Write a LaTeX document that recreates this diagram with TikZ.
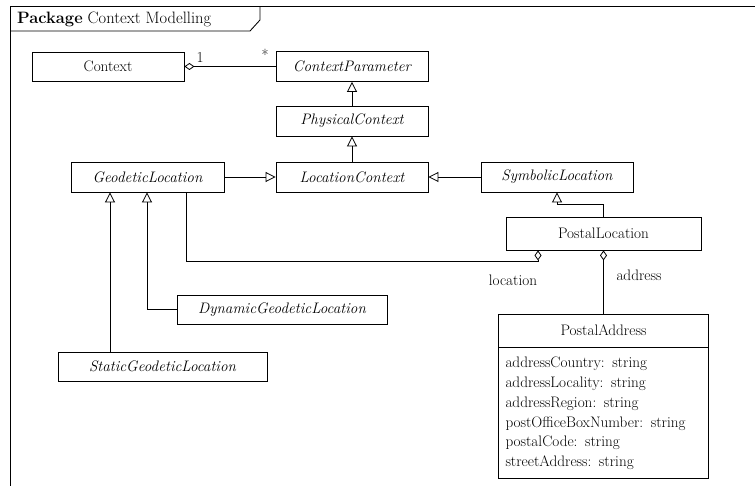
\documentclass[tikz,border=0pt]{standalone}
\usetikzlibrary{arrows.meta}
\begin{document}
\begin{tikzpicture}[x=1pt,y=-1pt,
  font=\fontsize{15.2}{19.8}\selectfont,
  cls/.style={draw, line width=0.85pt, minimum height=30pt, inner sep=0pt},
  abscls/.style={cls, font=\fontsize{15.2}{19.8}\selectfont\itshape},
  gen/.style={line width=0.8pt, -{Triangle[open,length=10pt,width=10pt]}},
  aggstart/.style={line width=0.8pt, {Diamond[open,length=10pt,width=7pt]}-},
  aggend/.style={line width=0.8pt, -{Diamond[open,length=10pt,width=7pt]}},
  lbl/.style={inner sep=0pt}]

\useasboundingbox (0,0) rectangle (755,486);

% package frame and its name tab
\draw[line width=1pt] (755,7) -- (10,7) -- (10,486);
\draw[line width=0.85pt] (10,31) -- (250,31) -- (260,20) -- (260,7);
\node[lbl, anchor=west, font=\fontsize{16.5}{19.8}\selectfont] (title) at (17,19.5) {\textbf{Package} Context Modelling};

% classes
\node[cls, minimum width=152pt, minimum height=29pt] (ctx) at (108,66.5) {Context};
\node[abscls, minimum width=152pt] (cp) at (352,66.5) {ContextParameter};
\node[abscls, minimum width=152pt] (pc) at (352,121) {PhysicalContext};
\node[abscls, minimum width=152pt] (lc) at (352,177) {LocationContext};
\node[abscls, minimum width=153pt] (gl) at (147.5,177) {GeodeticLocation};
\node[abscls, minimum width=152pt] (sl) at (557,177) {SymbolicLocation};
\node[cls, minimum width=195pt, minimum height=33pt] (pl) at (603.5,233.5) {PostalLocation};
\node[abscls, minimum width=210pt, minimum height=29pt] (dgl) at (282,309.5) {DynamicGeodeticLocation};
\node[abscls, minimum width=209pt, minimum height=29pt] (sgl) at (162.5,366.5) {StaticGeodeticLocation};
\node[cls, minimum width=210pt, minimum height=33pt] (pat) at (603.5,330.5) {PostalAddress};
\node[cls, anchor=north, minimum height=131pt, text width=196pt, inner xsep=7pt, align=left] (paa) at (pat.south)
  {addressCountry: string\\
   addressLocality: string\\
   addressRegion: string\\
   postOfficeBoxNumber: string\\
   postalCode: string\\
   streetAddress: string};

% helper positions for the routed connectors
\coordinate (sx) at (110,0);
\coordinate (dx) at (147,0);
\coordinate (lx) at (186,0);
\coordinate (ldx) at (538,0);
\coordinate (lbend) at (538,261);

% aggregation Context -- ContextParameter
\draw[aggstart] (ctx.east) -- (cp.west);
\node[lbl] (mone) at (200,57) {1};
\node[lbl] (mstar) at (265,54.5) {*};

% generalizations
\draw[gen] (pc.north) -- (cp.south);
\draw[gen] (lc.north) -- (pc.south);
\draw[gen] (gl.east) -- (lc.west);
\draw[gen] (sl.west) -- (lc.east);
\draw[gen] (pl.north) -- ++(0,-12) -| (sl.south);
\draw[gen] (sgl.north -| sx) -- (gl.south -| sx);
\draw[gen] (dgl.west) -| (gl.south -| dx);

% aggregations of PostalLocation
\draw[aggend] (gl.south -| lx) |- (lbend) -- (pl.south -| ldx);
\node[lbl] (loclbl) at (513,280) {location};
\draw[aggstart] (pl.south) -- (pat.north);
\node[lbl] (addrlbl) at (639,275) {address};

\end{tikzpicture}
\end{document}
